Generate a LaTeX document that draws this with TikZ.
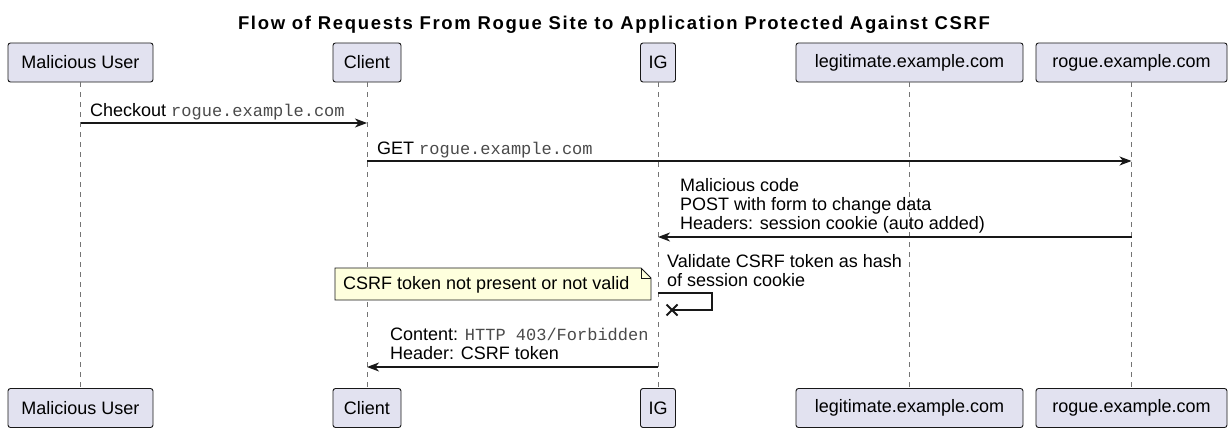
\documentclass[tikz,border=0pt]{standalone}
\usepackage{fontspec}
\setmainfont{Liberation Sans}
\setmonofont{Liberation Mono}
\newfontfamily\titlefont[LetterSpace=9]{Liberation Sans}
\usetikzlibrary{arrows.meta,calc}
\definecolor{partfill}{HTML}{E2E2F0}
\definecolor{edgecol}{HTML}{181818}
\definecolor{notefill}{HTML}{FEFFDD}
\definecolor{monogray}{HTML}{4A4A4A}
\newcommand{\monotxt}[1]{{\fontsize{17}{19}\selectfont\ttfamily\color{monogray}#1}}
\begin{document}
\begin{tikzpicture}[x=1pt,y=-1pt,
  part/.style={draw=edgecol, fill=partfill, rounded corners=2.5pt, line width=0.9pt,
    minimum height=39pt, inner sep=0pt, font=\fontsize{18}{20}\selectfont},
  msgtext/.style={inner sep=0pt, anchor=base west, font=\fontsize{18}{20}\selectfont},
  lifeline/.style={draw=edgecol!60, line width=0.8pt, dash pattern=on 5pt off 5pt},
  msgline/.style={draw=edgecol, line width=1.2pt, -{Stealth[length=12pt,width=9pt,inset=3.5pt]}},
  crossline/.style={draw=edgecol, line width=2pt},
  notebox/.style={draw=edgecol, fill=notefill, line width=0.8pt, line join=miter},
  titletext/.style={inner sep=0pt, anchor=base, font=\titlefont\fontsize{18.5}{21}\selectfont\bfseries}]
\useasboundingbox (0,0) rectangle (1228,428);

% title
\node[titletext] (title) at (614,30) {Flow of Requests From Rogue Site to Application Protected Against CSRF};

% participants (top)
\node[part, minimum width=145pt] (muT) at (80.5,62.5) {Malicious User};
\node[part, minimum width=68pt]  (clT) at (367,62.5) {Client};
\node[part, minimum width=35pt]  (igT) at (658,62.5) {IG};
\node[part, minimum width=227pt] (leT) at (909.5,62.5) {legitimate.example.com};
\node[part, minimum width=191pt] (roT) at (1131.5,62.5) {rogue.example.com};
% participants (bottom)
\node[part, minimum width=145pt] (muB) at (80.5,408) {Malicious User};
\node[part, minimum width=68pt]  (clB) at (367,408) {Client};
\node[part, minimum width=35pt]  (igB) at (658,408) {IG};
\node[part, minimum width=227pt] (leB) at (909.5,408) {legitimate.example.com};
\node[part, minimum width=191pt] (roB) at (1131.5,408) {rogue.example.com};

% lifelines
\draw[lifeline] (muT.south) -- (muB.north);
\draw[lifeline] (clT.south) -- (clB.north);
\draw[lifeline] (igT.south) -- (igB.north);
\draw[lifeline] (leT.south) -- (leB.north);
\draw[lifeline] (roT.south) -- (roB.north);

% message 1
\coordinate (m1s) at (80.5,123);
\coordinate (m1e) at (367,123);
\draw[msgline] (m1s) -- (m1e);
\node[msgtext] (m1t) at (90,116) {Checkout \monotxt{rogue.example.com}};

% message 2
\coordinate (m2s) at (367,161);
\coordinate (m2e) at (1131.5,161);
\draw[msgline] (m2s) -- (m2e);
\node[msgtext] (m2t) at (377,154) {GET \monotxt{rogue.example.com}};

% message 3
\coordinate (m3s) at (1131.5,237);
\coordinate (m3e) at (658,237);
\draw[msgline] (m3s) -- (m3e);
\node[msgtext] (m3a) at (680,191) {Malicious code};
\node[msgtext] (m3b) at (680,210) {POST with form to change data};
\node[msgtext] (m3c) at (680,229) {Headers: session cookie (auto added)};

% message 4 (self, lost)
\node[msgtext] (m4a) at (667,267) {Validate CSRF token as hash};
\node[msgtext] (m4b) at (667,286) {of session cookie};
\coordinate (m4s) at (658,293);
\coordinate (m4r1) at (712,293);
\coordinate (m4r2) at (712,310);
\coordinate (m4x) at (672,310);
\draw[draw=edgecol, line width=1.2pt] (m4s) -- (m4r1) -- (m4r2) -- (m4x);
\draw[crossline] ($(m4x)+(-5.5,-5.5)$) -- ($(m4x)+(5.5,5.5)$);
\draw[crossline] ($(m4x)+(-5.5,5.5)$) -- ($(m4x)+(5.5,-5.5)$);

% note
\draw[notebox] (335,268) -- (641,268) -- (651,278) -- (651,300) -- (335,300) -- cycle;
\draw[draw=edgecol, line width=0.8pt] (641,268) -- (641,278) -- (651,278);
\node[msgtext] (notet) at (343,289) {CSRF token not present or not valid};

% message 5
\coordinate (m5s) at (658,367);
\coordinate (m5e) at (367,367);
\draw[msgline] (m5s) -- (m5e);
\node[msgtext] (m5a) at (390,340) {Content: \monotxt{HTTP 403/Forbidden}};
\node[msgtext] (m5b) at (390,359) {Header: CSRF token};
\end{tikzpicture}
\end{document}
